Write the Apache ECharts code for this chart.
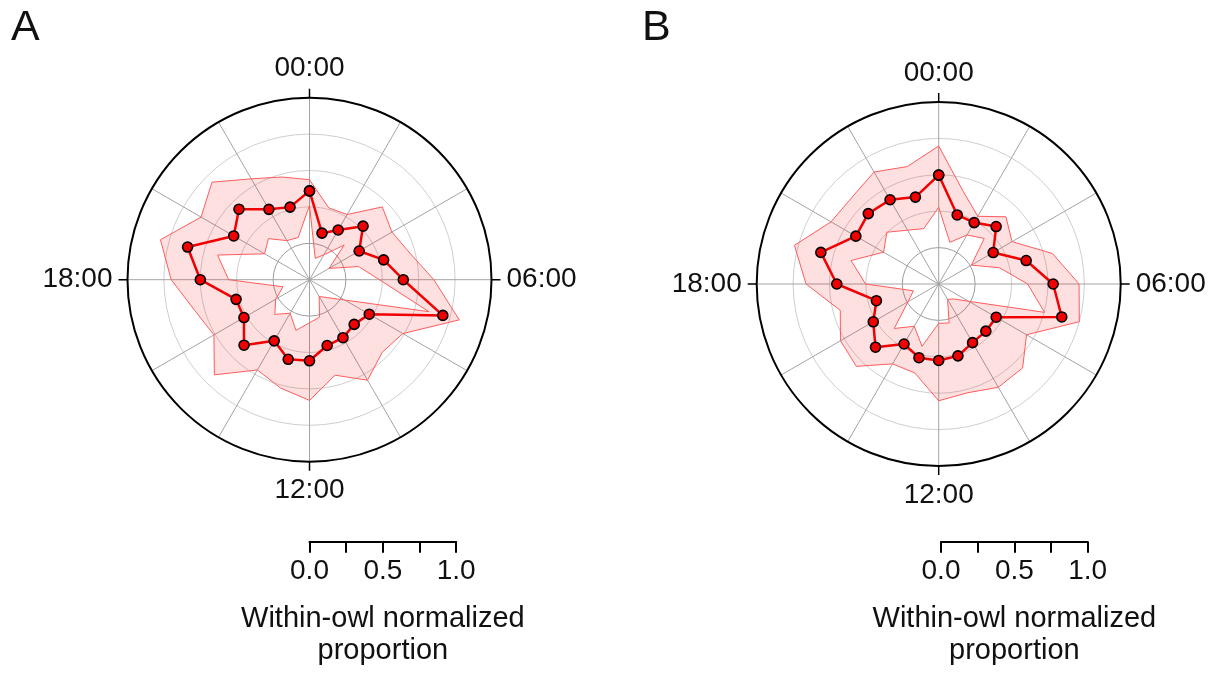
<!DOCTYPE html>
<html>
<head>
<meta charset="utf-8">
<title>Within-owl normalized proportion</title>
<script src="https://cdn.jsdelivr.net/npm/echarts@6/dist/echarts.min.js"></script>
<style>
  html, body { margin: 0; padding: 0; background: #fff; }
  #chart { width: 1215px; height: 673px; }
</style>
</head>
<body>
<div id="chart"></div>
<script>
// hour of day, 00:00 at the top, running clockwise
var hours = [0, 1, 2, 3, 4, 5, 6, 7, 8, 9, 10, 11, 12, 13, 14, 15, 16, 17, 18, 19, 20, 21, 22, 23]
var scaleLabels = [0, 0.5, 1]

// panel A
var meanA = [0.36, 0.081, 0.144, 0.27, 0.144, 0.277, 0.394, 0.698, 0.224, 0.184, 0.21, 0.218,
  0.307, 0.316, 0.235, 0.386, 0.27, 0.272, 0.50, 0.617, 0.351, 0.435, 0.308, 0.266]
var lowerA = [0.26, -0.098, -0.053, 0.087, -0.095, 0.099, 0.23, 0.599, 0.029, -0.076, -0.117, 0.016,
  0.046, 0.11, 0.016, 0.087, 0.018, -0.062, 0.305, 0.404, 0.106, 0.149, 0.06, 0.05]
var upperA = [0.437, 0.261, 0.267, 0.457, 0.404, 0.462, 0.604, 0.815, 0.49, 0.456, 0.547, 0.429,
  0.579, 0.52, 0.466, 0.674, 0.508, 0.566, 0.70, 0.81, 0.61, 0.697, 0.55, 0.48]

// panel B
var meanB = [0.498, 0.241, 0.237, 0.308, 0.182, 0.372, 0.536, 0.625, 0.206, 0.208, 0.215, 0.261,
  0.275, 0.274, 0.226, 0.364, 0.269, 0.193, 0.45, 0.588, 0.407, 0.434, 0.418, 0.368]
var lowerB = [0.277, 0.046, 0.139, 0.192, 0.009, 0.182, 0.361, 0.502, -0.013, -0.105, -0.128, 0.027,
  0.02, 0.193, 0.085, 0.182, -0.007, -0.07, 0.252, 0.373, 0.187, 0.253, 0.177, 0.144]
var upperB = [0.698, 0.406, 0.287, 0.403, 0.332, 0.559, 0.714, 0.75, 0.447, 0.565, 0.569, 0.523,
  0.552, 0.383, 0.383, 0.55, 0.529, 0.45, 0.661, 0.776, 0.604, 0.592, 0.638, 0.585]

var FONT = '"Liberation Sans", Arial, Helvetica, sans-serif'

// [radius, hour] pairs, closed back onto 00:00
function ring(values) {
  var pts = hours.map(function(h, i) { return [values[i], h] })
  pts.push([values[0], 24])
  return pts
}

function spread(upper, lower) {
  return upper.map(function(v, i) { return +(v - lower[i]).toFixed(3) })
}

function hourLabel(v) {
  return (v < 10 ? '0' + v : '' + v) + ':00'
}

function angleAxis(idx) {
  return {
    polarIndex: idx,
    type: 'value',
    min: 0,
    max: 24,
    interval: 6,
    startAngle: 90,
    clockwise: true,
    axisLine: { show: true, lineStyle: { color: '#000', width: 2 } },
    axisTick: { show: true, inside: false, length: 9, lineStyle: { color: '#000', width: 1.5 } },
    axisLabel: { formatter: hourLabel, fontSize: 28, color: '#111', fontFamily: FONT, margin: 15 },
    splitLine: { show: true, lineStyle: { color: '#a4a4a4', width: 1 } },
    minorTick: { show: false, splitNumber: 3 },
    minorSplitLine: { show: true, lineStyle: { color: '#a4a4a4', width: 1 } }
  }
}

function radiusAxis(idx) {
  return {
    polarIndex: idx,
    type: 'value',
    min: -0.25,
    max: 1,
    interval: 0.25,
    axisLine: { show: false },
    axisTick: { show: false },
    axisLabel: { show: false },
    splitLine: {
      show: true,
      lineStyle: {
        color: ['rgba(0,0,0,0)', '#9c9c9c', '#cfcfcf', '#cfcfcf', '#cfcfcf', 'rgba(0,0,0,0)'],
        width: 1
      }
    }
  }
}

function scaleAxis(idx) {
  return {
    gridIndex: idx,
    type: 'value',
    min: 0,
    max: 1,
    interval: 0.25,
    position: 'bottom',
    axisLine: { show: true, onZero: false, lineStyle: { color: '#000', width: 2 } },
    axisTick: { show: true, inside: false, length: 11, lineStyle: { color: '#000', width: 2 } },
    axisLabel: {
      showMinLabel: true,
      showMaxLabel: true,
      fontSize: 28,
      color: '#111',
      fontFamily: FONT,
      margin: 16,
      formatter: function(v) {
        return scaleLabels.indexOf(v) >= 0 ? v.toFixed(1) : ''
      }
    },
    splitLine: { show: false },
    name: 'Within-owl normalized\nproportion',
    nameLocation: 'middle',
    nameGap: 61,
    nameTextStyle: { fontSize: 29, color: '#111', fontFamily: FONT, lineHeight: 32 }
  }
}

function bandSeries(idx, lower, upper) {
  var stack = 'band' + idx
  var edge = { color: '#ff5c5c', width: 1 }
  return [{
    type: 'line',
    coordinateSystem: 'polar',
    polarIndex: idx,
    stack: stack,
    stackStrategy: 'all',
    data: ring(lower),
    symbol: 'none',
    silent: true,
    lineStyle: edge,
    z: 2
  }, {
    type: 'line',
    coordinateSystem: 'polar',
    polarIndex: idx,
    stack: stack,
    stackStrategy: 'all',
    data: ring(spread(upper, lower)),
    symbol: 'none',
    silent: true,
    lineStyle: edge,
    areaStyle: { color: 'rgba(255, 0, 0, 0.12)', opacity: 1 },
    z: 2
  }]
}

function meanSeries(idx, mean) {
  return {
    type: 'line',
    coordinateSystem: 'polar',
    polarIndex: idx,
    data: ring(mean),
    symbol: 'circle',
    symbolSize: 10,
    showAllSymbol: true,
    lineStyle: { color: '#f00000', width: 2.5 },
    itemStyle: { color: '#f00000', borderColor: '#000', borderWidth: 1.6 },
    z: 4
  }
}

var chart = echarts.init(document.getElementById('chart'), null, { renderer: 'canvas' })

chart.setOption({
  animation: false,
  backgroundColor: '#fff',
  textStyle: { fontFamily: FONT },
  title: [
    { text: 'A', left: 6, top: 2, textStyle: { fontSize: 43, fontWeight: 'normal', color: '#111', fontFamily: FONT } },
    { text: 'B', left: 637, top: 2, textStyle: { fontSize: 43, fontWeight: 'normal', color: '#111', fontFamily: FONT } }
  ],
  polar: [
    { center: [309.5, 279.7], radius: 182 },
    { center: [938.7, 284], radius: 182 }
  ],
  angleAxis: [angleAxis(0), angleAxis(1)],
  radiusAxis: [radiusAxis(0), radiusAxis(1)],
  grid: [
    { left: 309.5, top: 500, width: 146.7, height: 41.7, show: false },
    { left: 941, top: 500, width: 146.7, height: 41.7, show: false }
  ],
  xAxis: [scaleAxis(0), scaleAxis(1)],
  yAxis: [
    { gridIndex: 0, type: 'value', show: false, min: 0, max: 1 },
    { gridIndex: 1, type: 'value', show: false, min: 0, max: 1 }
  ],
  series: [].concat(
    bandSeries(0, lowerA, upperA),
    [meanSeries(0, meanA)],
    bandSeries(1, lowerB, upperB),
    [meanSeries(1, meanB)]
  )
})
</script>
</body>
</html>
